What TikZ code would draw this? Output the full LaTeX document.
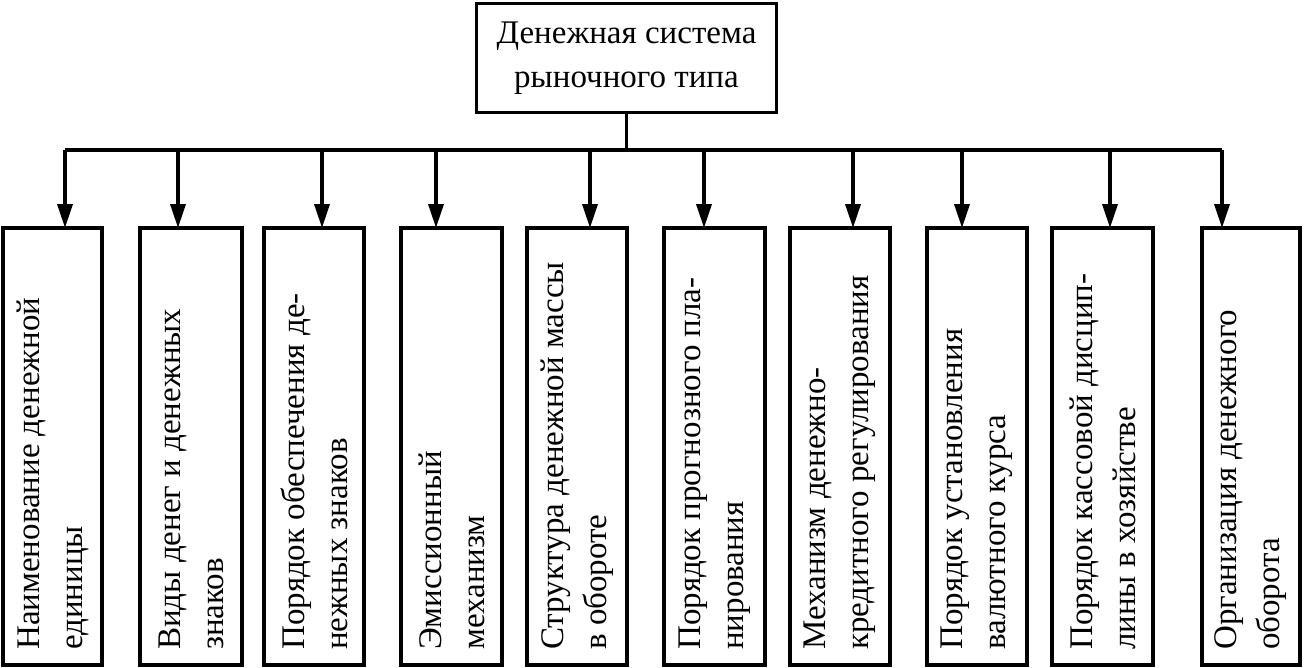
\documentclass[tikz,border=0pt]{standalone}
\usepackage{fontspec}
\setmainfont{Liberation Serif}
\usetikzlibrary{arrows.meta}
\begin{document}
\begin{tikzpicture}[x=1pt,y=-1pt,
  box/.style={draw,line width=3.5pt},
  lab/.style={font=\fontsize{33}{43}\selectfont,rotate=90,anchor=west,align=left,inner sep=0pt},
  arr/.style={line width=3.5pt,-{Triangle[length=24pt,width=15pt]}}]
\useasboundingbox (0,0) rectangle (1304,667);
\node[box,minimum width=300pt,minimum height=109pt,align=center,font=\fontsize{33}{44}\selectfont] (top) at (626.5,58) {Денежная система\\рыночного типа};
\coordinate (j) at (626.5,150);
\draw[line width=3.5pt] (top.south) -- (j);
\draw[line width=3.5pt] (65,150) -- (1222,150);
\foreach \i/\l/\r/\a/\t in {
 1/3/102/65/{Наименование денежной\\единицы},
 2/140/242/178/{Виды денег и денежных\\знаков},
 3/264/364/322/{Порядок обеспечения де-\\нежных знаков},
 4/401/502/436/{Эмиссионный\\механизм},
 5/527/627/590/{Структура денежной массы\\в обороте},
 6/664/765/704/{Порядок прогнозного пла-\\нирования},
 7/790/890/853/{Механизм денежно-\\кредитного регулирования},
 8/927/1027/962/{Порядок установления\\валютного курса},
 9/1052/1153/1110/{Порядок кассовой дисцип-\\лины в хозяйстве},
 10/1202/1300/1222/{Организация денежного\\оборота}}{
  \draw[box] (\l,228) rectangle (\r,665);
  \node[lab] (t\i) at ({(\l+\r)/2},650) {\t};
  \coordinate (s\i) at (\a,150);
  \draw[arr] (s\i) -- (\a,228);
}
\end{tikzpicture}
\end{document}
